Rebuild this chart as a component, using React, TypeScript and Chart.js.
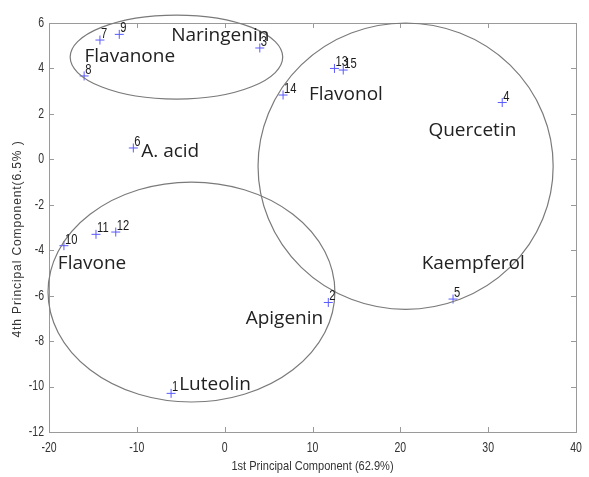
import React, { useEffect, useRef } from "react";
import { Chart, registerables } from "chart.js";

Chart.register(...registerables);

// ---- data ----
const pointIds = ["1", "2", "3", "4", "5", "6", "7", "8", "9", "10", "11", "12", "13", "14", "15"];
const pc1 = [-6.1, 11.8, 4.0, 31.6, 26.0, -10.4, -14.2, -16.0, -12.0, -18.3, -14.65, -12.4, 12.5, 6.65, 13.5];
const pc4 = [-10.3, -6.3, 4.9, 2.5, -6.15, 0.5, 5.25, 3.67, 5.5, -3.8, -3.3, -3.2, 4.0, 2.83, 3.93];

const groupNames = ["Flavanone", "Naringenin", "Flavonol", "Quercetin", "A. acid", "Flavone", "Kaempferol", "Apigenin", "Luteolin"];
const groupX = [-10.8, -0.5, 13.8, 28.2, -6.2, -15.1, 28.3, 6.8, -1.1];
const groupY = [4.5, 5.43, 2.83, 1.25, 0.32, -4.6, -4.6, -7.0, -9.93];

const ellipseCx = [-5.49, 20.6, -3.78];
const ellipseCy = [4.5, -0.3, -5.84];
const ellipseRx = [12.1, 16.8, 16.33];
const ellipseRy = [1.85, 6.3, 4.84];

const xTicks = [-20, -10, 0, 10, 20, 30, 40];
const yTicks = [-12, -10, -8, -6, -4, -2, 0, 2, 4, 6];

const xTitle = "1st Principal Component (62.9%)";
const yTitle = "4th Principal Component(6.5% )";

const SANS = "'Liberation Sans', Arial, sans-serif";

function narrowText(ctx: any, text: string, x: number, y: number, sx: number, align: string) {
  ctx.save();
  ctx.translate(x, y);
  ctx.scale(sx, 1);
  ctx.textAlign = align;
  ctx.fillText(text, 0, 0);
  ctx.restore();
}

const overlayPlugin = {
  id: "overlay",
  afterDatasetsDraw(chart: any) {
    const ctx = chart.ctx;
    const xs = chart.scales.x;
    const ys = chart.scales.y;
    const a = chart.chartArea;
    ctx.save();
    // frame (top/right) and inward ticks
    ctx.strokeStyle = "#9a9a9a";
    ctx.lineWidth = 1;
    ctx.beginPath();
    ctx.moveTo(a.left, a.top + 0.5);
    ctx.lineTo(a.right + 0.5, a.top + 0.5);
    ctx.lineTo(a.right + 0.5, a.bottom);
    ctx.stroke();
    const tl = 5;
    ctx.beginPath();
    xTicks.forEach((v) => {
      const px = Math.round(xs.getPixelForValue(v)) + 0.5;
      ctx.moveTo(px, a.bottom);
      ctx.lineTo(px, a.bottom - tl);
      ctx.moveTo(px, a.top);
      ctx.lineTo(px, a.top + tl);
    });
    yTicks.forEach((v) => {
      const py = Math.round(ys.getPixelForValue(v)) + 0.5;
      ctx.moveTo(a.left, py);
      ctx.lineTo(a.left + tl, py);
      ctx.moveTo(a.right, py);
      ctx.lineTo(a.right - tl, py);
    });
    ctx.stroke();

    // tick labels
    ctx.fillStyle = "#333333";
    ctx.font = `14px ${SANS}`;
    ctx.textBaseline = "middle";
    xTicks.forEach((v) => {
      narrowText(ctx, String(v), xs.getPixelForValue(v), a.bottom + 16, 0.75, "center");
    });
    yTicks.forEach((v) => {
      narrowText(ctx, String(v), a.left - 5, ys.getPixelForValue(v), 0.75, "right");
    });

    // ellipses
    ctx.strokeStyle = "#7a7a7a";
    ctx.lineWidth = 1.2;
    for (let i = 0; i < ellipseCx.length; i++) {
      const cx = xs.getPixelForValue(ellipseCx[i]);
      const cy = ys.getPixelForValue(ellipseCy[i]);
      const rx = Math.abs(xs.getPixelForValue(ellipseCx[i] + ellipseRx[i]) - cx);
      const ry = Math.abs(ys.getPixelForValue(ellipseCy[i] + ellipseRy[i]) - cy);
      ctx.beginPath();
      ctx.ellipse(cx, cy, rx, ry, 0, 0, Math.PI * 2);
      ctx.stroke();
    }

    // point number labels
    ctx.fillStyle = "#1a1a1a";
    ctx.font = `14px ${SANS}`;
    ctx.textBaseline = "alphabetic";
    for (let i = 0; i < pointIds.length; i++) {
      const px = xs.getPixelForValue(pc1[i]);
      const py = ys.getPixelForValue(pc4[i]);
      narrowText(ctx, pointIds[i], px + 1, py - 2, 0.8, "left");
    }

    // group labels
    ctx.font = "19px 'Open Sans', sans-serif";
    ctx.fillStyle = "#222222";
    ctx.textAlign = "center";
    ctx.textBaseline = "middle";
    for (let i = 0; i < groupNames.length; i++) {
      ctx.fillText(groupNames[i], xs.getPixelForValue(groupX[i]), ys.getPixelForValue(groupY[i]));
    }

    // axis titles
    ctx.fillStyle = "#333333";
    ctx.font = `13px ${SANS}`;
    ctx.textBaseline = "middle";
    narrowText(ctx, xTitle, (a.left + a.right) / 2, 466, 0.85, "center");
    ctx.save();
    ctx.translate(18, 239);
    ctx.rotate(-Math.PI / 2);
    ctx.font = `12px ${SANS}`;
    ctx.textAlign = "center";
    (ctx as any).letterSpacing = "0.9px";
    ctx.fillText(yTitle, 0, 0);
    ctx.restore();
    ctx.restore();
  },
};

export default function App() {
  const ref = useRef<HTMLCanvasElement>(null);
  useEffect(() => {
    if (!ref.current) return;
    const chart = new Chart(ref.current, {
      type: "scatter",
      data: {
        datasets: [
          {
            data: pc1.map((x, i) => ({ x, y: pc4[i] })),
            pointStyle: "cross",
            pointRadius: 4.5,
            pointBorderColor: "#5a5aff",
            pointBorderWidth: 1,
            pointBackgroundColor: "#5a5aff",
          },
        ],
      },
      options: {
        responsive: false,
        animation: false,
        devicePixelRatio: 1,
        layout: { padding: { top: 23, right: 13, left: 0, bottom: 0 } },
        plugins: { legend: { display: false }, tooltip: { enabled: false } },
        scales: {
          x: {
            type: "linear",
            min: -20,
            max: 40,
            afterBuildTicks: (s: any) => {
              s.ticks = xTicks.map((v) => ({ value: v }));
            },
            afterFit: (s: any) => {
              s.height = 45;
            },
            grid: { display: false },
            border: { display: true, color: "#9a9a9a" },
            ticks: { display: false },
          },
          y: {
            type: "linear",
            min: -12,
            max: 6,
            afterBuildTicks: (s: any) => {
              s.ticks = yTicks.map((v) => ({ value: v }));
            },
            afterFit: (s: any) => {
              s.width = 49;
            },
            grid: { display: false },
            border: { display: true, color: "#9a9a9a" },
            ticks: { display: false },
          },
        },
      },
      plugins: [overlayPlugin],
    });
    return () => chart.destroy();
  }, []);
  return (
    <div style={{ position: "fixed", left: 0, top: 0, width: 589, height: 477, background: "#fff" }}>
      <canvas ref={ref} width={589} height={477} style={{ width: 589, height: 477 }} />
    </div>
  );
}
